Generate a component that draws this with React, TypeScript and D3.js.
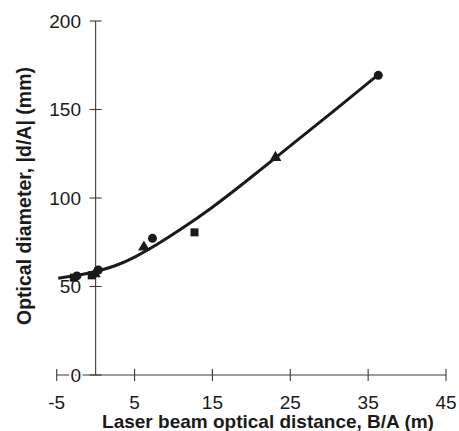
import * as d3 from "d3";
import { useEffect, useRef } from "react";

const circlePoints: [number, number][] = [
  [-2.4, 56],
  [0.35, 59.3],
  [7.3, 77.2],
  [36.3, 169.3],
];
const squarePoints: [number, number][] = [
  [-2.8, 55.0],
  [-0.5, 56.3],
  [12.7, 80.6],
];
const trianglePoints: [number, number][] = [
  [-0.1, 57.2],
  [6.2, 72.2],
  [23.1, 122.8],
];
// Fitted curve
const fitCurve: [number, number][] = [
  [-4.8, 54.7],
  [-2.5, 56.0],
  [0, 58.4],
  [2.5, 61.4],
  [5, 66.3],
  [8.3, 74.8],
  [10.85, 82.0],
  [14.7, 93.6],
  [19, 108.2],
  [25, 129.5],
  [30, 147],
  [36.2, 169.3],
];
const xTicks = [-5, 5, 15, 25, 35, 45];
const yTicks = [0, 50, 100, 150, 200];

const W = 459;
const H = 431;
const font = "'Liberation Sans', Arial, Helvetica, sans-serif";

const App = () => {
  const svgRef = useRef<SVGSVGElement | null>(null);

  useEffect(() => {
    if (!svgRef.current) return;
    const svg = d3.select(svgRef.current);
    svg.selectAll("*").remove();

    const x = d3.scaleLinear().domain([-5, 45]).range([56.7, 446]);
    const y = d3.scaleLinear().domain([0, 200]).range([375, 21]);
    const axisColor = "#3a3a3a";
    const ink = "#1a1a1a";

    // axes
    const gAxis = svg.append("g").attr("stroke", axisColor).attr("stroke-width", 1.1);
    gAxis
      .append("line")
      .attr("x1", x(-5))
      .attr("x2", x(45))
      .attr("y1", y(0))
      .attr("y2", y(0));
    gAxis
      .append("line")
      .attr("x1", x(0))
      .attr("x2", x(0))
      .attr("y1", y(0))
      .attr("y2", y(200));
    gAxis
      .selectAll("line.xt")
      .data(xTicks)
      .join("line")
      .attr("class", "xt")
      .attr("x1", (d) => x(d))
      .attr("x2", (d) => x(d))
      .attr("y1", y(0) - 6)
      .attr("y2", y(0) + 6);
    gAxis
      .selectAll("line.yt")
      .data(yTicks)
      .join("line")
      .attr("class", "yt")
      .attr("x1", x(0) - 6)
      .attr("x2", x(0) + 6)
      .attr("y1", (d) => y(d))
      .attr("y2", (d) => y(d));

    // tick labels
    svg
      .append("g")
      .selectAll("text")
      .data(xTicks)
      .join("text")
      .attr("x", (d) => x(d))
      .attr("y", 409)
      .attr("text-anchor", "middle")
      .attr("font-family", font)
      .attr("font-size", 19)
      .attr("fill", ink)
      .text((d) => d);
    svg
      .append("g")
      .selectAll("text")
      .data(yTicks)
      .join("text")
      .attr("x", 81)
      .attr("y", (d) => y(d))
      .attr("dy", "0.36em")
      .attr("text-anchor", "end")
      .attr("font-family", font)
      .attr("font-size", 19)
      .attr("fill", ink)
      .attr("stroke", "white")
      .attr("stroke-width", (d) => (d === 0 ? 4 : 0))
      .attr("paint-order", "stroke")
      .text((d) => d);

    // axis titles
    svg
      .append("text")
      .attr("x", 268)
      .attr("y", 428)
      .attr("text-anchor", "middle")
      .attr("font-family", font)
      .attr("font-weight", "bold")
      .attr("font-size", 19)
      .attr("fill", ink)
      .text("Laser beam optical distance, B/A (m)");
    svg
      .append("text")
      .attr("transform", `translate(31,196) rotate(-90)`)
      .attr("text-anchor", "middle")
      .attr("font-family", font)
      .attr("font-weight", "bold")
      .attr("font-size", 19.5)
      .attr("fill", ink)
      .text("Optical diameter, |d/A| (mm)");

    // fit curve
    const line = d3
      .line<[number, number]>()
      .x((d) => x(d[0]))
      .y((d) => y(d[1]))
      .curve(d3.curveBasis);
    svg
      .append("path")
      .datum(fitCurve)
      .attr("d", line)
      .attr("fill", "none")
      .attr("stroke", ink)
      .attr("stroke-width", 3);

    // markers
    const gMarks = svg.append("g").attr("fill", ink);
    gMarks
      .selectAll("rect")
      .data(squarePoints)
      .join("rect")
      .attr("x", (d) => x(d[0]) - 4)
      .attr("y", (d) => y(d[1]) - 4)
      .attr("width", 8)
      .attr("height", 8);
    const tri = d3.symbol(d3.symbolTriangle, 60);
    gMarks
      .selectAll("path.tri")
      .data(trianglePoints)
      .join("path")
      .attr("class", "tri")
      .attr("d", tri)
      .attr("transform", (d) => `translate(${x(d[0])},${y(d[1])})`);
    gMarks
      .selectAll("circle")
      .data(circlePoints)
      .join("circle")
      .attr("cx", (d) => x(d[0]))
      .attr("cy", (d) => y(d[1]))
      .attr("r", 4.5);
  }, []);

  return (
    <svg
      ref={svgRef}
      width={W}
      height={H}
      style={{ position: "absolute", left: 0, top: 0, background: "white" }}
    />
  );
};

export default App;
